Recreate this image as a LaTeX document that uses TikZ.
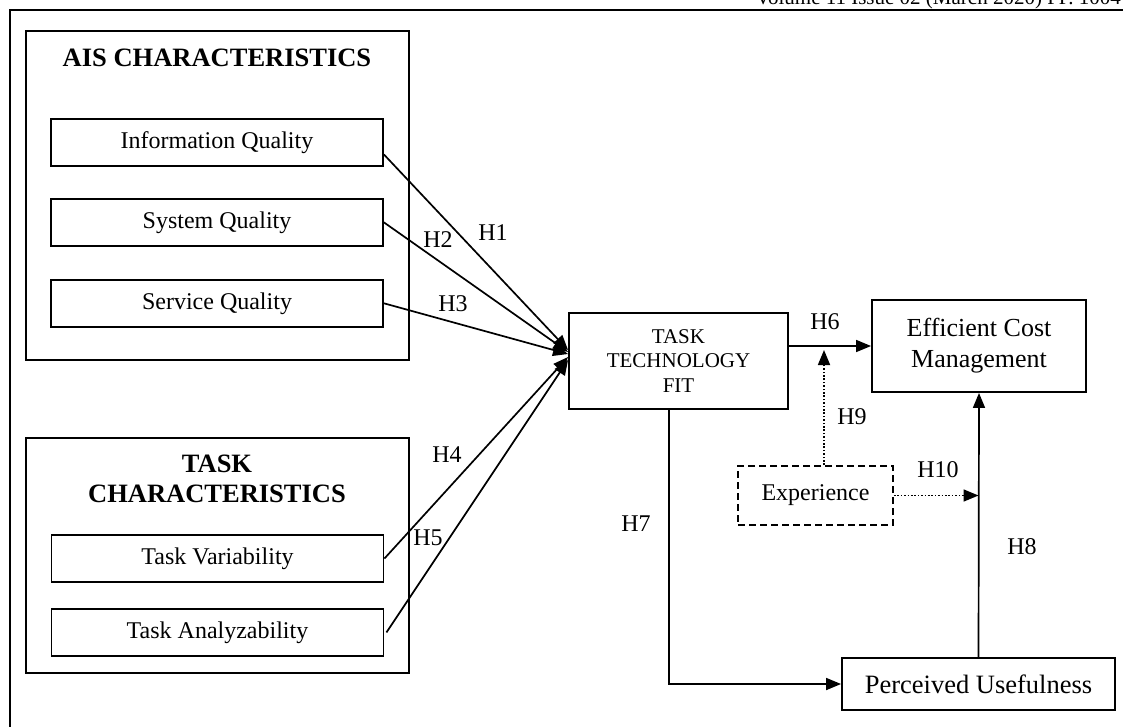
\documentclass[tikz,border=0pt]{standalone}
\usepackage{fontspec}
\setmainfont{Liberation Serif}
\usetikzlibrary{arrows.meta, positioning, calc}

\begin{document}
\begin{tikzpicture}[
    x=1pt, y=-1pt,
    box/.style={
        draw,
        line width=1.9pt,
        minimum width=332pt,
        minimum height=47pt,
        inner sep=2pt,
        font=\fontsize{24}{28}\selectfont
    },
    grpbox/.style={
        draw,
        line width=1.9pt,
        minimum width=383pt
    },
    grptitle/.style={
        font=\fontsize{26.5}{30}\selectfont\bfseries,
        align=center,
        inner sep=0pt
    },
    ptr/.style={
        -{Triangle[length=15pt,width=12pt]},
        line width=1.7pt
    },
    dotptr/.style={
        ptr,
        dash pattern=on 1.7pt off 1.7pt
    },
    hlabel/.style={
        font=\fontsize{24}{28}\selectfont,
        inner sep=0pt
    }
]
    \useasboundingbox (0,0) rectangle (1123,726);

    % Page frame and header
    \node[anchor=base east, inner sep=0pt, font=\fontsize{21}{24}\selectfont] (hdr) at (1121,4) {Volume 11 Issue 02 (March 2020) PP. 1004};
    \draw[line width=2pt] (1130,9.5) -- (10,9.5) -- (10,730);

    % Groups
    \node[grpbox, minimum height=329pt] (aisgrp) at (217.5,195.5) {};
    \node[grptitle] (aistitle) at (217,58) {AIS CHARACTERISTICS};
    \node[grpbox, minimum height=235pt] (taskgrp) at (217.5,555.5) {};
    \node[grptitle] (tasktitle) at (217,479) {TASK\\CHARACTERISTICS};

    % Nodes
    \node[box] (infoq) at (217,142.5) {Information Quality};
    \node[box, below=31pt of infoq] (sysq) {System Quality};
    \node[box, below=32pt of sysq] (servq) {Service Quality};
    \node[box] (taskvar) at (217.5,558.5) {Task Variability};
    \node[box, below=25pt of taskvar] (taskana) {Task Analyzability};

    \node[box, minimum width=219pt, minimum height=96pt, align=center,
          font=\fontsize{21}{24.5}\selectfont] (ttf) at (678.5,361) {TASK\\TECHNOLOGY\\FIT};
    \node[box, minimum width=214pt, minimum height=92pt, align=center,
          font=\fontsize{26}{31}\selectfont] (ecm) at (979,346) {Efficient Cost\\Management};
    \node[box, minimum width=155pt, minimum height=59pt, dash pattern=on 7pt off 4pt] (exp) at (815.5,495.5) {Experience};
    \node[box, minimum width=273pt, minimum height=52pt,
          font=\fontsize{26.5}{30}\selectfont] (pu) at (978.5,684) {Perceived Usefulness};

    % Links into the fit
    \draw[ptr] ([yshift=-12pt]infoq.east) -- ([yshift=11pt]ttf.west);
    \draw[ptr] (sysq.east) -- ([yshift=9pt]ttf.west);
    \draw[ptr] (servq.east) -- ([yshift=7pt]ttf.west);
    \draw[ptr] (taskvar.east) -- ([yshift=4pt]ttf.west);
    \draw[ptr] ([xshift=2pt]taskana.east) -- ([yshift=1pt]ttf.west);

    % Outcome links
    \draw[ptr] (ttf.east |- ecm.west) -- (ecm.west);
    \draw[ptr] ([xshift=-9.5pt]ttf.south) |- (pu.west);
    \draw[ptr] (pu.north) -- (ecm.south);

    % Moderator
    \coordinate (modtip) at (824,350);
    \draw[dotptr] (exp.north -| modtip) -- (modtip);
    \draw[dotptr] (exp.east) -- (exp.east -| pu.north);

    % Hypothesis labels
    \node[hlabel] (h1) at (493,233) {H1};
    \node[hlabel] (h2) at (438,240) {H2};
    \node[hlabel] (h3) at (453,304) {H3};
    \node[hlabel] (h4) at (447,455) {H4};
    \node[hlabel] (h5) at (428,538) {H5};
    \node[hlabel] (h6) at (825,322) {H6};
    \node[hlabel] (h7) at (636,524) {H7};
    \node[hlabel] (h8) at (1022,547) {H8};
    \node[hlabel] (h9) at (852,417) {H9};
    \node[hlabel] (h10) at (938,470) {H10};

\end{tikzpicture}
\end{document}
